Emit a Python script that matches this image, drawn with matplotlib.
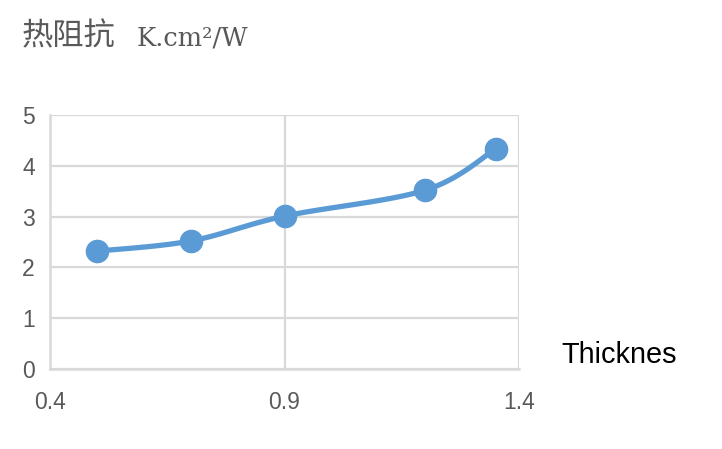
import numpy as np
import matplotlib
matplotlib.use("Agg")
import matplotlib.pyplot as plt

thickness = [0.5, 0.7, 0.9, 1.2, 1.35]
resistance = [2.32, 2.52, 3.01, 3.52, 4.33]
x_ticks = [0.4, 0.9, 1.4]
x_tick_labels = ["0.4", "0.9", "1.4"]
y_ticks = [0, 1, 2, 3, 4, 5]
title_cjk = "热阻抗"
title_unit = "K.cm²/W"
xlabel_text = "Thicknes"


def smooth(xs, ys, n=30):
    # Catmull-Rom style Bezier smoothing (like spreadsheet "smoothed line")
    xs = np.asarray(xs, float)
    ys = np.asarray(ys, float)
    P = np.column_stack([xs, ys])
    out = []
    for i in range(len(P) - 1):
        p0 = P[i - 1] if i > 0 else P[i]
        p1 = P[i]
        p2 = P[i + 1]
        p3 = P[i + 2] if i + 2 < len(P) else P[i + 1]
        c1 = p1 + (p2 - p0) / 6.0
        c2 = p2 - (p3 - p1) / 6.0
        t = np.linspace(0, 1, n)[:, None]
        seg = ((1 - t) ** 3) * p1 + 3 * ((1 - t) ** 2) * t * c1 + 3 * (1 - t) * t ** 2 * c2 + t ** 3 * p2
        out.append(seg if i == 0 else seg[1:])
    S = np.vstack(out)
    return S[:, 0], S[:, 1]


fig = plt.figure(figsize=(7.22, 4.49), dpi=100)
ax = fig.add_axes([50 / 722, 1 - 369 / 449, (519 - 50) / 722, (369 - 115) / 449])

grid_c = "#d9d9d9"
blue = "#5b9bd5"
txt_c = "#595959"

ax.set_xlim(0.4, 1.4)
ax.set_ylim(0, 5)
ax.set_xticks(x_ticks)
ax.set_xticklabels(x_tick_labels)
ax.set_yticks(y_ticks)
ax.grid(True, color=grid_c, linewidth=1.6)
ax.set_axisbelow(True)
for s in ["top", "right"]:
    ax.spines[s].set_visible(False)
for s in ["left", "bottom"]:
    ax.spines[s].set_color(grid_c)
    ax.spines[s].set_linewidth(1.8)
ax.tick_params(length=0, labelsize=16.5, labelcolor=txt_c)
ax.tick_params(axis="y", pad=11)
ax.tick_params(axis="x", pad=16)
for lab in ax.get_xticklabels() + ax.get_yticklabels():
    lab.set_family(["Liberation Sans", "DejaVu Sans"])

sx, sy = smooth(thickness, resistance)
ax.plot(sx, sy, color=blue, linewidth=3.8, solid_capstyle="round", zorder=3, clip_on=False)
ax.plot(thickness, resistance, linestyle="none", marker="o", markersize=16,
        color=blue, zorder=4, clip_on=False)

fig.text(22 / 722, 1 - 45 / 449, title_cjk, fontsize=22.5, color=txt_c,
         family=["Noto Sans CJK SC", "DejaVu Sans"], ha="left", va="baseline")
fig.text(137 / 722, 1 - 45 / 449, title_unit, fontsize=18.5, color=txt_c,
         family=["DejaVu Serif", "DejaVu Sans"], ha="left", va="baseline")
fig.text(561 / 722, 1 - 363 / 449, xlabel_text, fontsize=20.8, color="black",
         family=["Liberation Sans", "DejaVu Sans"], ha="left", va="baseline")

fig.savefig("out.png", dpi=100)
